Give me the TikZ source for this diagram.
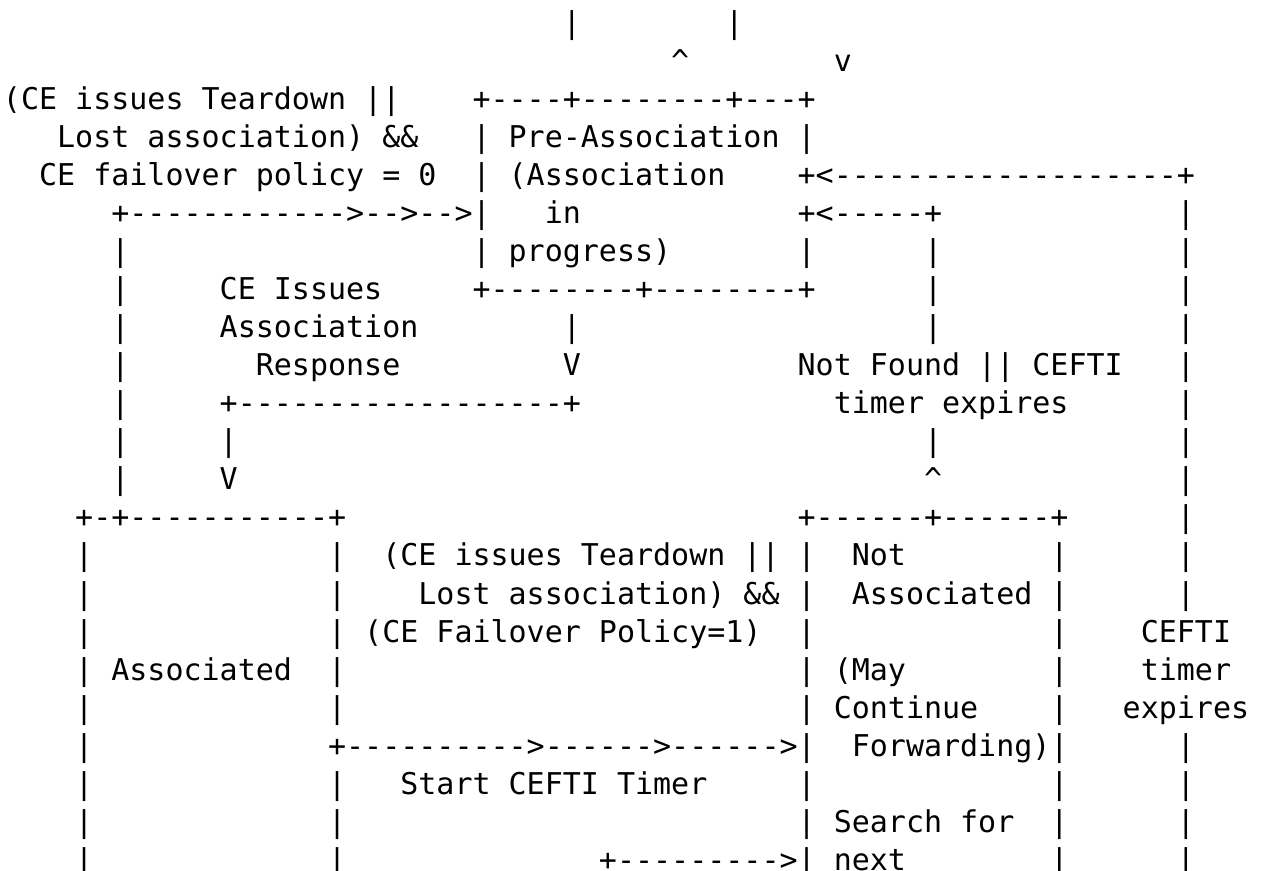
\documentclass[tikz,border=0pt]{standalone}
\usepackage{fontspec}
\setmonofont{DejaVu Sans Mono}
\tikzset{asc/.style={anchor=base west, inner sep=0pt, outer sep=0pt, text=black,
  font=\ttfamily\fontsize{15pt}{19pt}\selectfont}}
% \R{col}{line}{text}: one run of the ASCII figure, placed on its character grid
\newcommand\R[3]{\node[asc] (l#2c#1) at ({1.5pt+#1*9.03pt},{-17pt-(#2-1)*19pt}) {#3};}
\begin{document}
\begin{tikzpicture}
\fill[white] (0,0) rectangle (632pt,-435.5pt);
\useasboundingbox (0,0) rectangle (632pt,-435.5pt);
% line 1-2
\R{31}{1}{|}\R{40}{1}{|}
\R{37}{2}{\textasciicircum}\R{46}{2}{v}
% line 3-5
\R{0}{3}{(CE issues Teardown ||}\R{26}{3}{+----+--------+---+}
\R{3}{4}{Lost association) \&\&}\R{26}{4}{| Pre-Association |}
\R{2}{5}{CE failover policy = 0}\R{26}{5}{| (Association}\R{44}{5}{+<-------------------+}
% line 6-13
\R{6}{6}{+------------>-->-->|}\R{30}{6}{in}\R{44}{6}{+<-----+}\R{65}{6}{|}
\R{6}{7}{|}\R{26}{7}{| progress)}\R{44}{7}{|}\R{51}{7}{|}\R{65}{7}{|}
\R{6}{8}{|}\R{12}{8}{CE Issues}\R{26}{8}{+--------+--------+}\R{51}{8}{|}\R{65}{8}{|}
\R{6}{9}{|}\R{12}{9}{Association}\R{31}{9}{|}\R{51}{9}{|}\R{65}{9}{|}
\R{6}{10}{|}\R{14}{10}{Response}\R{31}{10}{V}\R{44}{10}{Not Found || CEFTI}\R{65}{10}{|}
\R{6}{11}{|}\R{12}{11}{+------------------+}\R{46}{11}{timer expires}\R{65}{11}{|}
\R{6}{12}{|}\R{12}{12}{|}\R{51}{12}{|}\R{65}{12}{|}
\R{6}{13}{|}\R{12}{13}{V}\R{51}{13}{\textasciicircum}\R{65}{13}{|}
% line 14-23
\R{4}{14}{+-+-----------+}\R{44}{14}{+------+------+}\R{65}{14}{|}
\R{4}{15}{|}\R{18}{15}{|}\R{21}{15}{(CE issues Teardown || |}\R{47}{15}{Not}\R{58}{15}{|}\R{65}{15}{|}
\R{4}{16}{|}\R{18}{16}{|}\R{23}{16}{Lost association) \&\& |}\R{47}{16}{Associated |}\R{65}{16}{|}
\R{4}{17}{|}\R{18}{17}{| (CE Failover Policy=1)}\R{44}{17}{|}\R{58}{17}{|}\R{63}{17}{CEFTI}
\R{4}{18}{|}\R{6}{18}{Associated}\R{18}{18}{|}\R{44}{18}{| (May}\R{58}{18}{|}\R{63}{18}{timer}
\R{4}{19}{|}\R{18}{19}{|}\R{44}{19}{| Continue}\R{58}{19}{|}\R{62}{19}{expires}
\R{4}{20}{|}\R{18}{20}{+---------->------>------>|}\R{47}{20}{Forwarding)|}\R{65}{20}{|}
\R{4}{21}{|}\R{18}{21}{|}\R{22}{21}{Start CEFTI Timer}\R{44}{21}{|}\R{58}{21}{|}\R{65}{21}{|}
\R{4}{22}{|}\R{18}{22}{|}\R{44}{22}{| Search for}\R{58}{22}{|}\R{65}{22}{|}
\R{4}{23}{|}\R{18}{23}{|}\R{33}{23}{+--------->| next}\R{58}{23}{|}\R{65}{23}{|}
\end{tikzpicture}
\end{document}
